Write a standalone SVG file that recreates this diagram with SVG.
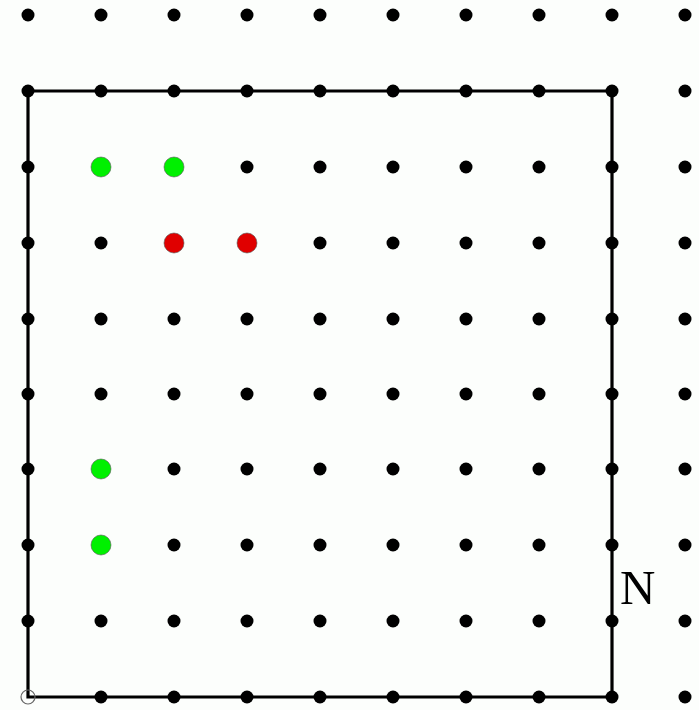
<svg xmlns="http://www.w3.org/2000/svg" width="699" height="710" viewBox="0 0 699 710">
<style>
.d{fill:#000}
.g{fill:#00f000;stroke:#555;stroke-width:0.6}
.r{fill:#e00000;stroke:#555;stroke-width:0.6}
.ln{fill:none;stroke:#000;stroke-width:3.2}
</style>
<defs><circle id="dot" r="6.5" class="d"/></defs>
<rect width="699" height="710" fill="#fcfefc"/>
<g id="connectors">
<path class="ln" d="M28,91 H612 V697 H28 Z"/>
</g>
<g id="grid">
<g id="row0"><use href="#dot" x="28" y="15"/><use href="#dot" x="101" y="15"/><use href="#dot" x="174" y="15"/><use href="#dot" x="247" y="15"/><use href="#dot" x="320" y="15"/><use href="#dot" x="393" y="15"/><use href="#dot" x="466" y="15"/><use href="#dot" x="539" y="15"/><use href="#dot" x="612" y="15"/><use href="#dot" x="685" y="15"/></g>
<g id="row1"><use href="#dot" x="28" y="91"/><use href="#dot" x="101" y="91"/><use href="#dot" x="174" y="91"/><use href="#dot" x="247" y="91"/><use href="#dot" x="320" y="91"/><use href="#dot" x="393" y="91"/><use href="#dot" x="466" y="91"/><use href="#dot" x="539" y="91"/><use href="#dot" x="612" y="91"/><use href="#dot" x="685" y="91"/></g>
<g id="row2"><use href="#dot" x="28" y="167"/><use href="#dot" x="247" y="167"/><use href="#dot" x="320" y="167"/><use href="#dot" x="393" y="167"/><use href="#dot" x="466" y="167"/><use href="#dot" x="539" y="167"/><use href="#dot" x="612" y="167"/><use href="#dot" x="685" y="167"/></g>
<g id="row3"><use href="#dot" x="28" y="243"/><use href="#dot" x="101" y="243"/><use href="#dot" x="320" y="243"/><use href="#dot" x="393" y="243"/><use href="#dot" x="466" y="243"/><use href="#dot" x="539" y="243"/><use href="#dot" x="612" y="243"/><use href="#dot" x="685" y="243"/></g>
<g id="row4"><use href="#dot" x="28" y="319"/><use href="#dot" x="101" y="319"/><use href="#dot" x="174" y="319"/><use href="#dot" x="247" y="319"/><use href="#dot" x="320" y="319"/><use href="#dot" x="393" y="319"/><use href="#dot" x="466" y="319"/><use href="#dot" x="539" y="319"/><use href="#dot" x="612" y="319"/><use href="#dot" x="685" y="319"/></g>
<g id="row5"><use href="#dot" x="28" y="394"/><use href="#dot" x="101" y="394"/><use href="#dot" x="174" y="394"/><use href="#dot" x="247" y="394"/><use href="#dot" x="320" y="394"/><use href="#dot" x="393" y="394"/><use href="#dot" x="466" y="394"/><use href="#dot" x="539" y="394"/><use href="#dot" x="612" y="394"/><use href="#dot" x="685" y="394"/></g>
<g id="row6"><use href="#dot" x="28" y="469"/><use href="#dot" x="174" y="469"/><use href="#dot" x="247" y="469"/><use href="#dot" x="320" y="469"/><use href="#dot" x="393" y="469"/><use href="#dot" x="466" y="469"/><use href="#dot" x="539" y="469"/><use href="#dot" x="612" y="469"/><use href="#dot" x="685" y="469"/></g>
<g id="row7"><use href="#dot" x="28" y="545"/><use href="#dot" x="174" y="545"/><use href="#dot" x="247" y="545"/><use href="#dot" x="320" y="545"/><use href="#dot" x="393" y="545"/><use href="#dot" x="466" y="545"/><use href="#dot" x="539" y="545"/><use href="#dot" x="612" y="545"/><use href="#dot" x="685" y="545"/></g>
<g id="row8"><use href="#dot" x="28" y="621"/><use href="#dot" x="101" y="621"/><use href="#dot" x="174" y="621"/><use href="#dot" x="247" y="621"/><use href="#dot" x="320" y="621"/><use href="#dot" x="393" y="621"/><use href="#dot" x="466" y="621"/><use href="#dot" x="539" y="621"/><use href="#dot" x="612" y="621"/><use href="#dot" x="685" y="621"/></g>
<g id="row9"><use href="#dot" x="101" y="697"/><use href="#dot" x="174" y="697"/><use href="#dot" x="247" y="697"/><use href="#dot" x="320" y="697"/><use href="#dot" x="393" y="697"/><use href="#dot" x="466" y="697"/><use href="#dot" x="539" y="697"/><use href="#dot" x="612" y="697"/><use href="#dot" x="685" y="697"/></g>
</g>
<g id="origin"><circle cx="28" cy="697" r="7" fill="none" stroke="#666" stroke-width="1.2"/></g>
<g id="green"><circle class="g" cx="101" cy="167" r="10"/><circle class="g" cx="174" cy="167" r="10"/><circle class="g" cx="101" cy="469" r="10"/><circle class="g" cx="101" cy="545" r="10"/></g>
<g id="red"><circle class="r" cx="174" cy="243" r="10"/><circle class="r" cx="247" cy="243" r="10"/></g>
<g id="label"><text x="620" y="604" font-family="Liberation Serif, serif" font-size="49" fill="#000">N</text></g>
</svg>
